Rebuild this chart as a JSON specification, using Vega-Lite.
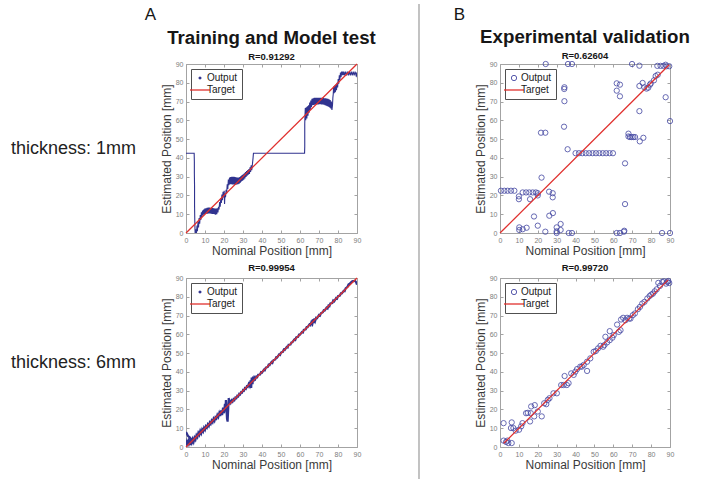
{
  "$schema": "https://vega.github.io/schema/vega-lite/v6.json",
  "background": "white",
  "padding": {"left": 10, "top": 3, "right": 0, "bottom": 0},
  "config": {
    "font": "Liberation Sans",
    "view": {"stroke": "#a3a3a3", "strokeWidth": 1},
    "axis": {
      "domain": false,
      "grid": false,
      "tickColor": "#a3a3a3",
      "tickSize": -3,
      "tickCount": 10,
      "labelColor": "#7d7d7d",
      "labelFontSize": 7,
      "labelPadding": 6,
      "labelFlush": false,
      "labelOverlap": false,
      "titleColor": "#3a3a3a",
      "titleFontSize": 12,
      "titleFontWeight": "normal",
      "titlePadding": 2
    },
    "legend": {
      "orient": "top-left",
      "offset": 5,
      "strokeColor": "#505050",
      "fillColor": "white",
      "padding": 4,
      "labelFontSize": 10,
      "labelColor": "#1a1a1a",
      "labelOffset": 2,
      "rowPadding": 2,
      "symbolSize": 400
    },
    "title": {"color": "#161616"}
  },
  "resolve": {"scale": {"color": "independent"}, "legend": {"color": "independent"}},
  "spacing": 41,
  "hconcat": [
    {
      "spacing": 7,
      "resolve": {"scale": {"color": "independent"}, "legend": {"color": "independent"}},
      "hconcat": [
        {
          "spacing": 44,
          "vconcat": [
            {
              "width": 125, "height": 170, "view": {"stroke": null},
              "data": {"values": [{"label": "thickness: 1mm"}]},
              "mark": {"type": "text", "fontSize": 18, "color": "#222222"},
              "encoding": {"text": {"field": "label"}}
            },
            {
              "width": 125, "height": 170, "view": {"stroke": null},
              "data": {"values": [{"label": "thickness: 6mm"}]},
              "mark": {"type": "text", "fontSize": 18, "color": "#222222"},
              "encoding": {"text": {"field": "label"}}
            }
          ]
        },
        {
          "title": {"text": "A", "anchor": "start", "dx": -15, "fontSize": 17, "fontWeight": "normal", "offset": 4},
          "spacing": 5,
          "resolve": {"scale": {"color": "independent"}, "legend": {"color": "independent"}},
          "vconcat": [
            {
              "width": 171, "height": 169,
              "title": {"text": "Training and Model test", "subtitle": "R=0.91292", "fontSize": 18.7, "fontWeight": "bold", "subtitleFontSize": 9.5, "subtitleFontWeight": "bold", "subtitleColor": "#161616", "subtitlePadding": 4, "offset": -1, "anchor": "middle"},
              "resolve": {"axis": {"x": "independent", "y": "independent"}},
              "layer": [
                {
                  "data": {"values": [
                    {"x":0,"y":42.5},{"x":4.3,"y":42.5},{"x":4.4,"y":38},{"x":4.4,"y":32},{"x":4.5,"y":25},{"x":4.5,"y":15},{"x":4.6,"y":8},{"x":4.7,"y":3},{"x":4.8,"y":0},{"x":5.2,"y":2},{"x":5.5,"y":0},{"x":5.8,"y":4},{"x":6,"y":1},{"x":6.3,"y":6},{"x":6.6,"y":3},{"x":6.9,"y":8},{"x":7.2,"y":5},{"x":7.5,"y":9.5},{"x":7.8,"y":7},{"x":8.1,"y":11},{"x":8.4,"y":8.5},{"x":8.7,"y":12},{"x":9,"y":9.5},{"x":9.3,"y":12.5},{"x":9.6,"y":10},{"x":9.9,"y":13},{"x":10.2,"y":10.2},{"x":10.5,"y":13.2},{"x":10.8,"y":10.3},{"x":11.1,"y":13.4},{"x":11.4,"y":10.3},{"x":11.7,"y":13.5},{"x":12,"y":10.4},{"x":12.3,"y":13.5},{"x":12.6,"y":10.4},{"x":12.9,"y":13.4},{"x":13.2,"y":10.3},{"x":13.5,"y":13.4},{"x":13.8,"y":10.2},{"x":14.1,"y":13.3},{"x":14.4,"y":10.2},{"x":14.7,"y":13.2},{"x":15,"y":10},{"x":15.3,"y":13},{"x":15.6,"y":9.8},{"x":15.9,"y":13},{"x":16.2,"y":10},{"x":16.5,"y":13.2},{"x":16.8,"y":11},{"x":17.1,"y":14},{"x":17.4,"y":12.5},{"x":17.7,"y":16.5},{"x":18,"y":14},{"x":18.3,"y":18.5},{"x":18.6,"y":16},{"x":18.9,"y":20.5},{"x":19.2,"y":17.5},{"x":19.5,"y":22},{"x":19.8,"y":19},{"x":20.1,"y":22.5},{"x":20.3,"y":15.5},{"x":20.5,"y":21},{"x":20.8,"y":19},{"x":21.1,"y":23},{"x":21.4,"y":21},{"x":21.7,"y":26},{"x":22,"y":23.5},{"x":22.3,"y":28.5},{"x":22.6,"y":25.5},{"x":22.9,"y":29.5},{"x":23.2,"y":26},{"x":23.5,"y":29.8},{"x":23.8,"y":26},{"x":24.1,"y":30},{"x":24.4,"y":25.8},{"x":24.7,"y":30},{"x":25,"y":25.8},{"x":25.3,"y":30},{"x":25.6,"y":25.7},{"x":25.9,"y":29.8},{"x":26.2,"y":25.7},{"x":26.5,"y":29.6},{"x":26.8,"y":25.8},{"x":27.1,"y":29.5},{"x":27.4,"y":26},{"x":27.7,"y":29.5},{"x":28,"y":26.3},{"x":28.3,"y":29.8},{"x":28.6,"y":26.8},{"x":28.9,"y":30.3},{"x":29.2,"y":27.4},{"x":29.5,"y":30.8},{"x":29.8,"y":27.9},{"x":30.1,"y":31.2},{"x":30.4,"y":28.4},{"x":30.7,"y":31.8},{"x":31,"y":29},{"x":31.3,"y":32.5},{"x":31.6,"y":29.8},{"x":31.9,"y":33},{"x":32.2,"y":30.5},{"x":32.5,"y":33.5},{"x":32.8,"y":31},{"x":33.1,"y":34},{"x":33.4,"y":31.5},{"x":33.7,"y":35},{"x":34,"y":32.5},{"x":34.3,"y":36},{"x":34.6,"y":33.5},{"x":35,"y":37},{"x":35.3,"y":40},{"x":35.5,"y":42.5},{"x":62.4,"y":42.5},{"x":62.5,"y":46},{"x":62.5,"y":52},{"x":62.5,"y":58},{"x":62.6,"y":62},{"x":62.8,"y":66.5},{"x":63,"y":60},{"x":63.3,"y":67},{"x":63.6,"y":61},{"x":63.9,"y":67.5},{"x":64.2,"y":62.5},{"x":64.5,"y":68},{"x":64.8,"y":64},{"x":65.1,"y":69.5},{"x":65.4,"y":65.5},{"x":65.7,"y":70.5},{"x":66,"y":67},{"x":66.3,"y":71.5},{"x":66.6,"y":68},{"x":66.9,"y":71.8},{"x":67.2,"y":68.2},{"x":67.5,"y":72},{"x":67.8,"y":68.3},{"x":68.1,"y":72},{"x":68.4,"y":68.4},{"x":68.7,"y":72},{"x":69,"y":68.5},{"x":69.3,"y":72},{"x":69.6,"y":68.5},{"x":69.9,"y":72},{"x":70.2,"y":68.6},{"x":70.5,"y":72},{"x":70.8,"y":68.6},{"x":71.1,"y":72},{"x":71.4,"y":68.5},{"x":71.7,"y":72},{"x":72,"y":68.5},{"x":72.3,"y":72},{"x":72.6,"y":68.3},{"x":72.9,"y":71.8},{"x":73.2,"y":68},{"x":73.5,"y":71.8},{"x":73.8,"y":67.8},{"x":74.1,"y":71.6},{"x":74.4,"y":67.5},{"x":74.7,"y":71.5},{"x":75,"y":67.2},{"x":75.3,"y":71.2},{"x":75.6,"y":66.8},{"x":75.9,"y":70.8},{"x":76.2,"y":66.3},{"x":76.5,"y":70},{"x":76.8,"y":65.5},{"x":77.1,"y":68},{"x":77.3,"y":72},{"x":77.5,"y":74},{"x":77.7,"y":78},{"x":78,"y":74.5},{"x":78.3,"y":78.5},{"x":78.6,"y":75},{"x":78.9,"y":79},{"x":79.2,"y":76},{"x":79.5,"y":80},{"x":79.8,"y":77.5},{"x":80.1,"y":82},{"x":80.4,"y":79.5},{"x":80.7,"y":84},{"x":81,"y":81.5},{"x":81.3,"y":85.5},{"x":81.6,"y":83},{"x":81.9,"y":86},{"x":82.2,"y":84},{"x":82.5,"y":86},{"x":82.8,"y":84},{"x":83.1,"y":86},{"x":83.5,"y":84},{"x":84,"y":86},{"x":84.5,"y":84},{"x":85,"y":86},{"x":85.5,"y":84},{"x":86,"y":86},{"x":86.5,"y":84},{"x":87,"y":86},{"x":87.5,"y":84},{"x":88,"y":86},{"x":88.5,"y":84},{"x":89,"y":86},{"x":89.5,"y":84},{"x":90,"y":85.5},{"x":90,"y":83}
                  ]},
                  "mark": {"type": "line", "strokeWidth": 1.1, "clip": true},
                  "encoding": {
                    "x": {"field": "x", "type": "quantitative", "scale": {"domain": [0, 90], "nice": false}, "axis": {"title": "Nominal Position [mm]"}},
                    "y": {"field": "y", "type": "quantitative", "scale": {"domain": [0, 90], "nice": false}, "axis": {"title": "Estimated Position [mm]"}},
                    "color": {
                      "datum": "Output", "type": "nominal",
                      "scale": {"domain": ["Output", "Target"], "range": ["#30338f", "#e0302e"]},
                      "legend": {"title": null, "encode": {"symbols": {"update": {
                        "shape": {"signal": "datum.value === 'Target' ? 'stroke' : 'circle'"},
                        "size": {"signal": "datum.value === 'Target' ? 400 : 3"},
                        "fill": {"signal": "datum.value === 'Target' ? 'transparent' : '#30338f'"},
                        "stroke": {"signal": "datum.value === 'Target' ? '#e0302e' : 'transparent'"},
                        "strokeWidth": {"value": 1.3},
                        "opacity": {"value": 1}
                      }}}}
                    },
                    "order": {"value": null}
                  }
                },
                {
                  "data": {"values": [{"x": 0, "y": 0}, {"x": 90, "y": 90}]},
                  "mark": {"type": "line", "strokeWidth": 1.3},
                  "encoding": {
                    "x": {"field": "x", "type": "quantitative", "axis": {"orient": "top", "labels": false, "title": null}},
                    "y": {"field": "y", "type": "quantitative", "axis": {"orient": "right", "labels": false, "title": null}},
                    "color": {"datum": "Target", "type": "nominal"}
                  }
                }
              ]
            },
            {
              "width": 171, "height": 169,
              "title": {"text": "R=0.99954", "fontSize": 9.5, "fontWeight": "bold", "offset": 2, "anchor": "middle"},
              "resolve": {"axis": {"x": "independent", "y": "independent"}},
              "layer": [
                {
                  "data": {"values": [
                    {"x":0,"y":8},{"x":0.5,"y":7},{"x":1,"y":6},{"x":2,"y":5},{"x":3,"y":4},{"x":4,"y":3},{"x":3,"y":2},{"x":2,"y":1.5},{"x":1,"y":2},{"x":0,"y":1.2},{"x":0.5,"y":3},{"x":1,"y":1.5},{"x":1.5,"y":3.5},{"x":2,"y":2},{"x":2.5,"y":3.8},{"x":3,"y":2.3},{"x":3.5,"y":4.2},{"x":4,"y":2.8},{"x":4.5,"y":5},{"x":5,"y":4},{"x":5.5,"y":6.2},{"x":6,"y":5.3},{"x":6.5,"y":7.5},{"x":7,"y":6.5},{"x":7.5,"y":8.5},{"x":8,"y":7.3},{"x":8.5,"y":9.3},{"x":9,"y":8.3},{"x":9.5,"y":10.2},{"x":10,"y":9.2},{"x":10.5,"y":11},{"x":11,"y":10.3},{"x":11.5,"y":12},{"x":12,"y":11.2},{"x":12.5,"y":13},{"x":13,"y":12.3},{"x":13.5,"y":14},{"x":14,"y":13.2},{"x":14.5,"y":15},{"x":15,"y":14},{"x":15.5,"y":15.8},{"x":16,"y":15.2},{"x":16.5,"y":17},{"x":17,"y":16},{"x":17.5,"y":18},{"x":18,"y":16.5},{"x":18.5,"y":19.5},{"x":19,"y":17},{"x":19.5,"y":21},{"x":20,"y":18},{"x":20.5,"y":23},{"x":20.8,"y":19},{"x":21,"y":25},{"x":21.3,"y":20},{"x":21.6,"y":15},{"x":21.9,"y":13.5},{"x":22.2,"y":20},{"x":22.5,"y":26},{"x":22.8,"y":23},{"x":23,"y":24.5},{"x":23.5,"y":23.5},{"x":24,"y":24.8},{"x":24.5,"y":24.2},{"x":25,"y":25.5},{"x":25.5,"y":25},{"x":26,"y":26.3},{"x":26.5,"y":26},{"x":27,"y":27.3},{"x":27.5,"y":27},{"x":28,"y":28.3},{"x":28.5,"y":28},{"x":29,"y":29.2},{"x":29.5,"y":29},{"x":30,"y":30.3},{"x":30.5,"y":30},{"x":31,"y":31.3},{"x":31.5,"y":31},{"x":32,"y":32.3},{"x":32.5,"y":32},{"x":33,"y":33.5},{"x":33.5,"y":32.5},{"x":34,"y":35.5},{"x":34.3,"y":31.5},{"x":34.6,"y":37},{"x":35,"y":33.5},{"x":35.3,"y":37.5},{"x":35.6,"y":35},{"x":36,"y":37},{"x":36.5,"y":36.3},{"x":37,"y":37.5},{"x":37.5,"y":37.2},{"x":38,"y":38.5},{"x":39,"y":38.6},{"x":39.5,"y":39.8},{"x":40,"y":39.6},{"x":41,"y":41.2},{"x":41.5,"y":40.9},{"x":42,"y":42.3},{"x":43,"y":42.6},{"x":43.5,"y":43.8},{"x":44,"y":43.6},{"x":45,"y":45.3},{"x":45.5,"y":44.8},{"x":46,"y":46.2},{"x":47,"y":46.6},{"x":47.5,"y":47.8},{"x":48,"y":47.7},{"x":49,"y":49.3},{"x":49.5,"y":49},{"x":50,"y":50.3},{"x":51,"y":50.7},{"x":51.5,"y":51.9},{"x":52,"y":51.7},{"x":53,"y":53.3},{"x":53.5,"y":53},{"x":54,"y":54.5},{"x":55,"y":54.6},{"x":55.5,"y":55.7},{"x":56,"y":55.8},{"x":57,"y":57.2},{"x":57.5,"y":57},{"x":58,"y":58.4},{"x":59,"y":58.7},{"x":59.5,"y":59.8},{"x":60,"y":59.8},{"x":61,"y":61.2},{"x":61.5,"y":61},{"x":62,"y":62.4},{"x":63,"y":62.7},{"x":63.5,"y":63.8},{"x":64,"y":63.8},{"x":65,"y":65.3},{"x":65.5,"y":64.9},{"x":66,"y":66.5},{"x":66.5,"y":65.5},{"x":67,"y":68},{"x":67.3,"y":66},{"x":67.6,"y":68.5},{"x":68,"y":67.2},{"x":68.5,"y":68.8},{"x":69,"y":68.6},{"x":70,"y":70.3},{"x":70.5,"y":70},{"x":71,"y":71.2},{"x":72,"y":71.8},{"x":72.5,"y":72.8},{"x":73,"y":72.7},{"x":74,"y":74.2},{"x":74.5,"y":73.8},{"x":75,"y":75.3},{"x":75.5,"y":75},{"x":76,"y":76.5},{"x":77,"y":76.7},{"x":77.5,"y":78},{"x":78,"y":77.6},{"x":79,"y":79.3},{"x":79.5,"y":79},{"x":80,"y":80.3},{"x":81,"y":80.6},{"x":81.5,"y":81.8},{"x":82,"y":81.8},{"x":83,"y":83.2},{"x":83.5,"y":83},{"x":84,"y":84.5},{"x":85,"y":85.3},{"x":85.5,"y":86.5},{"x":86,"y":86.8},{"x":87,"y":87.8},{"x":87.5,"y":88.2},{"x":88,"y":88.3},{"x":88.5,"y":88.5},{"x":89,"y":88.4},{"x":89.5,"y":87.8},{"x":90,"y":86.5},{"x":90,"y":88}
                  ]},
                  "mark": {"type": "line", "strokeWidth": 2.2, "clip": true},
                  "encoding": {
                    "x": {"field": "x", "type": "quantitative", "scale": {"domain": [0, 90], "nice": false}, "axis": {"title": "Nominal Position [mm]"}},
                    "y": {"field": "y", "type": "quantitative", "scale": {"domain": [0, 90], "nice": false}, "axis": {"title": "Estimated Position [mm]"}},
                    "color": {
                      "datum": "Output", "type": "nominal",
                      "scale": {"domain": ["Output", "Target"], "range": ["#30338f", "#e0302e"]},
                      "legend": {"title": null, "encode": {"symbols": {"update": {
                        "shape": {"signal": "datum.value === 'Target' ? 'stroke' : 'circle'"},
                        "size": {"signal": "datum.value === 'Target' ? 400 : 3"},
                        "fill": {"signal": "datum.value === 'Target' ? 'transparent' : '#30338f'"},
                        "stroke": {"signal": "datum.value === 'Target' ? '#e0302e' : 'transparent'"},
                        "strokeWidth": {"value": 1.3},
                        "opacity": {"value": 1}
                      }}}}
                    },
                    "order": {"value": null}
                  }
                },
                {
                  "data": {"values": [{"x": 0, "y": 0}, {"x": 90, "y": 90}]},
                  "mark": {"type": "line", "strokeWidth": 1.3},
                  "encoding": {
                    "x": {"field": "x", "type": "quantitative", "axis": {"orient": "top", "labels": false, "title": null}},
                    "y": {"field": "y", "type": "quantitative", "axis": {"orient": "right", "labels": false, "title": null}},
                    "color": {"datum": "Target", "type": "nominal"}
                  }
                }
              ]
            }
          ]
        }
      ]
    },
    {
      "spacing": 33,
      "resolve": {"scale": {"color": "independent"}, "legend": {"color": "independent"}},
      "hconcat": [
        {
          "width": 1, "height": 415, "view": {"stroke": null},
          "data": {"values": [{"bottom": 0, "top": 1.1446}]},
          "mark": {"type": "rule", "color": "#9a9a9a", "strokeWidth": 1.2, "clip": false},
          "encoding": {
            "x": {"datum": 0, "type": "quantitative", "axis": null, "scale": {"domain": [0, 1]}},
            "y": {"field": "bottom", "type": "quantitative", "axis": null, "scale": {"domain": [0, 1], "nice": false}},
            "y2": {"field": "top"}
          }
        },
        {
          "title": {"text": "B", "anchor": "start", "dx": -20, "fontSize": 17, "fontWeight": "normal", "offset": 4},
          "spacing": 5,
          "resolve": {"scale": {"color": "independent"}, "legend": {"color": "independent"}},
          "vconcat": [
            {
              "width": 170, "height": 169,
              "title": {"text": "Experimental validation", "subtitle": "R=0.62604", "fontSize": 18.7, "fontWeight": "bold", "subtitleFontSize": 9.5, "subtitleFontWeight": "bold", "subtitleColor": "#161616", "subtitlePadding": 4, "offset": -1, "anchor": "middle"},
              "resolve": {"axis": {"x": "independent", "y": "independent"}},
              "layer": [
                {
                  "data": {"values": [
                    {"x":0.5,"y":22.5},{"x":2.3,"y":22.5},{"x":4,"y":22.5},{"x":5.8,"y":22.5},{"x":7.6,"y":22.5},
                    {"x":12,"y":21.6},{"x":13.8,"y":21.6},{"x":15.5,"y":21.6},{"x":17.3,"y":21.6},{"x":19,"y":21.6},
                    {"x":10,"y":19.5},{"x":10,"y":18},{"x":15.9,"y":18},{"x":20,"y":21.2},{"x":20,"y":20},
                    {"x":22,"y":29.5},{"x":21.7,"y":53.4},{"x":24,"y":53.4},
                    {"x":26,"y":22},{"x":27.9,"y":21.2},{"x":27.9,"y":19},
                    {"x":18,"y":8.8},{"x":20,"y":3.9},
                    {"x":10.2,"y":3},{"x":10.2,"y":1.6},{"x":12,"y":2},{"x":14.1,"y":2.8},
                    {"x":24,"y":0.7},{"x":26.1,"y":9.2},{"x":28,"y":10.6},
                    {"x":30,"y":3},{"x":30,"y":0.9},{"x":30,"y":0},{"x":32.1,"y":4.8},{"x":32.1,"y":1.6},
                    {"x":24.2,"y":90},{"x":36,"y":90},{"x":38.1,"y":90},
                    {"x":34.1,"y":77.6},{"x":34,"y":76.7},{"x":34.1,"y":70.2},{"x":33.9,"y":56.6},{"x":35.8,"y":44.6},
                    {"x":36.4,"y":0},{"x":38.1,"y":0},
                    {"x":40,"y":42.5},{"x":41.8,"y":42.5},{"x":43.6,"y":42.5},{"x":45.4,"y":42.5},{"x":47.2,"y":42.5},{"x":49,"y":42.5},{"x":50.8,"y":42.5},{"x":52.6,"y":42.5},{"x":54.4,"y":42.5},{"x":56.2,"y":42.5},{"x":58,"y":42.5},{"x":59.8,"y":42.5},
                    {"x":61.8,"y":79.7},{"x":63.5,"y":79},{"x":61.8,"y":75.8},{"x":63.5,"y":72.8},
                    {"x":66.2,"y":37.1},{"x":66.2,"y":15.4},
                    {"x":61.8,"y":0},{"x":63.5,"y":0},{"x":65.6,"y":0.7},{"x":65.8,"y":1.2},
                    {"x":68,"y":52.9},{"x":68,"y":51.4},{"x":68.8,"y":51.1},{"x":69.7,"y":51.1},{"x":70.6,"y":51.1},{"x":71.5,"y":51.1},
                    {"x":69.9,"y":90},{"x":73.8,"y":89.1},
                    {"x":73.8,"y":64.9},{"x":74,"y":48.8},{"x":75.9,"y":50.7},
                    {"x":73.8,"y":78.3},{"x":75.5,"y":79.9},{"x":76.4,"y":77.6},{"x":77.6,"y":76.9},{"x":78.5,"y":77.4},{"x":79.4,"y":79},{"x":79.8,"y":79.6},{"x":81.5,"y":81.3},{"x":82.4,"y":83.6},{"x":83.5,"y":84.3},
                    {"x":83.3,"y":89},{"x":85,"y":89},{"x":86.5,"y":89},{"x":87.7,"y":89.6},{"x":88.2,"y":88.8},{"x":89.6,"y":88.8},
                    {"x":87.7,"y":72.3},{"x":90,"y":59.6},{"x":85.8,"y":0},{"x":90,"y":0}
                  ]},
                  "mark": {"type": "point", "filled": false, "size": 28, "strokeWidth": 0.9, "opacity": 0.9},
                  "encoding": {
                    "x": {"field": "x", "type": "quantitative", "scale": {"domain": [0, 90], "nice": false}, "axis": {"title": "Nominal Position [mm]"}},
                    "y": {"field": "y", "type": "quantitative", "scale": {"domain": [0, 90], "nice": false}, "axis": {"title": "Estimated Position [mm]"}},
                    "color": {
                      "datum": "Output", "type": "nominal",
                      "scale": {"domain": ["Output", "Target"], "range": ["#4548a3", "#e0302e"]},
                      "legend": {"title": null, "encode": {"symbols": {"update": {
                        "shape": {"signal": "datum.value === 'Target' ? 'stroke' : 'circle'"},
                        "size": {"signal": "datum.value === 'Target' ? 400 : 28"},
                        "fill": {"value": "transparent"},
                        "stroke": {"signal": "datum.value === 'Target' ? '#e0302e' : '#4548a3'"},
                        "strokeWidth": {"signal": "datum.value === 'Target' ? 1.3 : 0.9"},
                        "opacity": {"value": 1}
                      }}}}
                    }
                  }
                },
                {
                  "data": {"values": [{"x": 0, "y": 0}, {"x": 89.6, "y": 89.6}]},
                  "mark": {"type": "line", "strokeWidth": 1.3},
                  "encoding": {
                    "x": {"field": "x", "type": "quantitative", "axis": {"orient": "top", "labels": false, "title": null}},
                    "y": {"field": "y", "type": "quantitative", "axis": {"orient": "right", "labels": false, "title": null}},
                    "color": {
                      "datum": "Target", "type": "nominal",
                      "legend": {"title": null, "encode": {"symbols": {"update": {
                        "shape": {"signal": "datum.value === 'Target' ? 'stroke' : 'circle'"},
                        "size": {"signal": "datum.value === 'Target' ? 400 : 28"},
                        "fill": {"value": "transparent"},
                        "stroke": {"signal": "datum.value === 'Target' ? '#e0302e' : '#4548a3'"},
                        "strokeWidth": {"signal": "datum.value === 'Target' ? 1.3 : 0.9"},
                        "opacity": {"value": 1}
                      }}}}
                    }
                  }
                }
              ]
            },
            {
              "width": 170, "height": 169,
              "title": {"text": "R=0.99720", "fontSize": 9.5, "fontWeight": "bold", "offset": 2, "anchor": "middle"},
              "resolve": {"axis": {"x": "independent", "y": "independent"}},
              "layer": [
                {
                  "data": {"values": [
                    {"x":1.9,"y":12.7},{"x":1.9,"y":3.4},{"x":3.2,"y":2.7},{"x":3.9,"y":3.4},{"x":4.4,"y":2.1},{"x":6.2,"y":2.1},
                    {"x":6.2,"y":13.1},{"x":5.8,"y":10.1},{"x":7.1,"y":10.1},{"x":8.3,"y":8.7},{"x":10.1,"y":9.2},{"x":11.2,"y":11},
                    {"x":11.9,"y":12.7},{"x":13.8,"y":18},{"x":14.7,"y":18.2},{"x":15.9,"y":13.6},{"x":16.3,"y":18},
                    {"x":16.5,"y":21.6},{"x":18.4,"y":22.3},{"x":18.1,"y":16.3},{"x":20,"y":18.9},{"x":22.1,"y":16.3},
                    {"x":23.4,"y":23.3},{"x":24.5,"y":22.8},{"x":25.3,"y":25.1},{"x":26.2,"y":26},
                    {"x":28.3,"y":28.6},{"x":30.1,"y":28.6},{"x":32.4,"y":33},{"x":33.7,"y":33},{"x":34.2,"y":37.8},
                    {"x":35.4,"y":33},{"x":36.3,"y":34},{"x":37.7,"y":39.2},{"x":39,"y":38.4},{"x":39.9,"y":40.1},{"x":40.8,"y":41.5},
                    {"x":42.5,"y":42.8},{"x":43.4,"y":42.8},{"x":44.3,"y":43.7},{"x":46.1,"y":40.5},{"x":46.1,"y":45.4},
                    {"x":47.8,"y":47.2},{"x":49.6,"y":50.7},{"x":50.7,"y":51.1},{"x":51.9,"y":52.5},{"x":53.2,"y":53.9},
                    {"x":54.6,"y":53.4},{"x":55.3,"y":54.3},{"x":55.8,"y":58.7},{"x":56.7,"y":55.7},{"x":58.1,"y":56.9},
                    {"x":58.1,"y":61.7},{"x":59.5,"y":58.2},{"x":60.2,"y":59.6},{"x":62,"y":65.2},{"x":62.9,"y":61.3},{"x":63.8,"y":62.2},
                    {"x":64.1,"y":67.9},{"x":65.2,"y":68.8},{"x":66.4,"y":67.5},{"x":67.3,"y":68.8},{"x":68.4,"y":68.4},{"x":69.1,"y":68.4},
                    {"x":70.3,"y":70.2},{"x":71.4,"y":71.1},{"x":73,"y":73.4},{"x":74.1,"y":74.6},{"x":75.3,"y":76.4},{"x":76.5,"y":77.3},
                    {"x":78,"y":79.1},{"x":79.2,"y":80.4},{"x":80.1,"y":81.2},{"x":81,"y":81.7},{"x":81.9,"y":82.9},{"x":83,"y":84},
                    {"x":83.8,"y":87.4},{"x":84.7,"y":85.8},{"x":85.9,"y":87.9},{"x":86.8,"y":88.2},{"x":87.9,"y":87},{"x":88.6,"y":87.9},{"x":89.1,"y":88.4},{"x":89.6,"y":87.3}
                  ]},
                  "mark": {"type": "point", "filled": false, "size": 28, "strokeWidth": 0.9, "opacity": 0.9},
                  "encoding": {
                    "x": {"field": "x", "type": "quantitative", "scale": {"domain": [0, 90], "nice": false}, "axis": {"title": "Nominal Position [mm]"}},
                    "y": {"field": "y", "type": "quantitative", "scale": {"domain": [0, 90], "nice": false}, "axis": {"title": "Estimated Position [mm]"}},
                    "color": {
                      "datum": "Output", "type": "nominal",
                      "scale": {"domain": ["Output", "Target"], "range": ["#4548a3", "#e0302e"]},
                      "legend": {"title": null, "encode": {"symbols": {"update": {
                        "shape": {"signal": "datum.value === 'Target' ? 'stroke' : 'circle'"},
                        "size": {"signal": "datum.value === 'Target' ? 400 : 28"},
                        "fill": {"value": "transparent"},
                        "stroke": {"signal": "datum.value === 'Target' ? '#e0302e' : '#4548a3'"},
                        "strokeWidth": {"signal": "datum.value === 'Target' ? 1.3 : 0.9"},
                        "opacity": {"value": 1}
                      }}}}
                    }
                  }
                },
                {
                  "data": {"values": [{"x": 2, "y": 2}, {"x": 89, "y": 89}]},
                  "mark": {"type": "line", "strokeWidth": 1.3},
                  "encoding": {
                    "x": {"field": "x", "type": "quantitative", "axis": {"orient": "top", "labels": false, "title": null}},
                    "y": {"field": "y", "type": "quantitative", "axis": {"orient": "right", "labels": false, "title": null}},
                    "color": {
                      "datum": "Target", "type": "nominal",
                      "legend": {"title": null, "encode": {"symbols": {"update": {
                        "shape": {"signal": "datum.value === 'Target' ? 'stroke' : 'circle'"},
                        "size": {"signal": "datum.value === 'Target' ? 400 : 28"},
                        "fill": {"value": "transparent"},
                        "stroke": {"signal": "datum.value === 'Target' ? '#e0302e' : '#4548a3'"},
                        "strokeWidth": {"signal": "datum.value === 'Target' ? 1.3 : 0.9"},
                        "opacity": {"value": 1}
                      }}}}
                    }
                  }
                }
              ]
            }
          ]
        }
      ]
    }
  ]
}
